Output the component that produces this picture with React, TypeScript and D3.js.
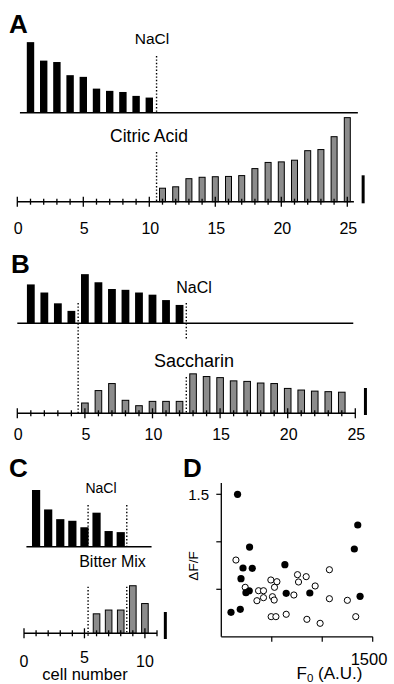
import React, { useEffect, useRef } from 'react';
import * as d3 from 'd3';

// Panel A: NaCl vs citric acid responses, per cell
const aNaClCells = [1, 2, 3, 4, 5, 6, 7, 8, 9, 10];
const aNaClValues = [1.26, 0.93, 0.905, 0.67, 0.64, 0.43, 0.39, 0.37, 0.3, 0.27];
const aCitricCells = [11, 12, 13, 14, 15, 16, 17, 18, 19, 20, 21, 22, 23, 24, 25];
const aCitricValues = [0.25, 0.275, 0.42, 0.445, 0.455, 0.46, 0.475, 0.6, 0.71, 0.72, 0.75, 0.92, 0.94, 1.17, 1.51];

// Panel B: NaCl vs saccharin
const bNaClCells = [1, 2, 3, 4, 5, 6, 7, 8, 9, 10, 11, 12];
const bNaClValues = [0.72, 0.57, 0.37, 0.23, 0.91, 0.76, 0.635, 0.62, 0.57, 0.53, 0.43, 0.34];
const bSaccCells = [5, 6, 7, 8, 9, 10, 11, 12, 13, 14, 15, 16, 17, 18, 19, 20, 21, 22, 23, 24];
const bSaccValues = [0.2, 0.43, 0.56, 0.25, 0.15, 0.23, 0.23, 0.23, 0.74, 0.69, 0.67, 0.61, 0.6, 0.57, 0.56, 0.47, 0.44, 0.42, 0.41, 0.4];

// Panel C: NaCl vs bitter mix
const cNaClCells = [1, 2, 3, 4, 5, 6, 7, 8];
const cNaClValues = [1.05, 0.69, 0.51, 0.48, 0.36, 0.63, 0.29, 0.27];
const cBitterCells = [6, 7, 8, 9, 10];
const cBitterValues = [0.37, 0.44, 0.44, 0.89, 0.56];

// tick labels
const abTickLabels = [0, 5, 10, 15, 20, 25];
const cTickLabels = [0, 5, 10];

// Panel D: dF/F vs F0, filled and open cells
const dFilledF0 = [161, 1352, 1318, 280, 215, 307, 630, 195, 244, 277, 643, 877, 1375, 96, 188];
const dFilledDF = [1.5, 1.177, 0.924, 0.945, 0.724, 0.721, 0.759, 0.612, 0.464, 0.485, 0.458, 0.461, 0.426, 0.258, 0.289];
const dOpenF0 = [145, 1071, 755, 841, 765, 491, 551, 237, 527, 930, 369, 418, 507, 418, 524, 353, 719, 1071, 1249, 494, 541, 643, 848, 979, 1332];
const dOpenDF = [0.808, 0.706, 0.654, 0.633, 0.577, 0.598, 0.58, 0.521, 0.521, 0.535, 0.485, 0.485, 0.422, 0.412, 0.387, 0.38, 0.44, 0.401, 0.384, 0.212, 0.212, 0.237, 0.184, 0.142, 0.212];
const dYTicks = [0.5, 1, 1.5];
const dXTicks = [500, 1000, 1500];

const FONT = '"Liberation Sans", Arial, Helvetica, sans-serif';
const GRAY = '#8c8c8c';

type G = d3.Selection<SVGGElement, unknown, null, undefined>;
type Lin = d3.ScaleLinear<number, number>;

function bars(g: G, cells: number[], values: number[], x: Lin, base: number, y: Lin, bw: number, gray: boolean) {
    const o = gray ? 0.5 : 0;
    g.append('g').selectAll('rect')
        .data(cells)
        .enter().append('rect')
        .attr('x', d => x(d) - bw / 2 + o)
        .attr('y', (d, i) => base - y(values[i]) + o)
        .attr('width', bw - 2 * o)
        .attr('height', (d, i) => y(values[i]) - o)
        .attr('fill', gray ? GRAY : '#000')
        .attr('stroke', gray ? '#000' : 'none')
        .attr('stroke-width', 1);
}

function hline(g: G, x1: number, x2: number, y: number, w = 1.5) {
    g.append('line').attr('x1', x1).attr('x2', x2).attr('y1', y).attr('y2', y)
        .attr('stroke', '#000').attr('stroke-width', w);
}

function dotted(g: G, x: number, y1: number, y2: number) {
    g.append('line').attr('x1', x).attr('x2', x).attr('y1', y1).attr('y2', y2)
        .attr('stroke', '#000').attr('stroke-width', 1.4).attr('stroke-dasharray', '1.4,2');
}

// axis with ticks crossing the line, longer ones every 5 cells
function cellAxis(g: G, x: Lin, y0: number, last: number, end: number) {
    hline(g, x(0), x(end), y0, 1.5);
    const ticks = d3.range(0, last + 1);
    g.append('g').selectAll('line')
        .data(ticks)
        .enter().append('line')
        .attr('x1', d => x(d)).attr('x2', d => x(d))
        .attr('y1', d => y0 - (d % 5 === 0 ? 5 : 3))
        .attr('y2', d => y0 + (d % 5 === 0 ? 5 : 3))
        .attr('stroke', '#000').attr('stroke-width', 1.3);
}

function label(g: G, txt: string, x: number, y: number, size: number, anchor = 'middle', bold = false) {
    return g.append('text').attr('x', x).attr('y', y)
        .attr('text-anchor', anchor)
        .attr('font-family', FONT)
        .attr('font-size', size)
        .attr('font-weight', bold ? 'bold' : 'normal')
        .text(txt);
}

function scaleBar(g: G, x: number, bottom: number, len: number) {
    g.append('line').attr('x1', x).attr('x2', x).attr('y1', bottom).attr('y2', bottom - len)
        .attr('stroke', '#000').attr('stroke-width', 3);
}

const App = () => {
    const svgRef = useRef<SVGSVGElement>(null);

    useEffect(() => {
        const svg = d3.select(svgRef.current);
        svg.selectAll('*').remove();
        const g = svg.append('g') as G;

        // ---------- A ----------
        const xA = d3.scaleLinear().domain([0, 25]).range([17.3, 347.3]);
        const yA = d3.scaleLinear().domain([0, 0.5]).range([0, 28]);
        const aTop = 112.7, aBot = 201.7;
        label(g, 'A', 9, 33, 26, 'start', true);
        bars(g, aNaClCells, aNaClValues, xA, aTop, yA, 7.4, false);
        hline(g, xA(0.2), xA(25.8), aTop, 1.6);
        dotted(g, xA(10.55), 56, aTop);
        label(g, 'NaCl', 152, 43.5, 15.5);
        bars(g, aCitricCells, aCitricValues, xA, aBot, yA, 7, true);
        dotted(g, xA(10.55), 152, aBot);
        label(g, 'Citric Acid', 149, 141.7, 17.5);
        cellAxis(g, xA, aBot, 25, 25.5);
        abTickLabels.forEach(t => label(g, String(t), xA(t) + 1, 233.5, 16));
        scaleBar(g, xA(26.2), aBot + 1.6, yA(0.5));

        // ---------- B ----------
        const xB = d3.scaleLinear().domain([0, 25]).range([17.3, 355.3]);
        const yB = d3.scaleLinear().domain([0, 0.5]).range([0, 27]);
        const bTop = 323.3, bBot = 413.3;
        label(g, 'B', 11, 273, 26, 'start', true);
        bars(g, bNaClCells, bNaClValues, xB, bTop, yB, 7.8, false);
        hline(g, xB(0), xB(24.85), bTop, 1.6);
        label(g, 'NaCl', 194, 293.3, 16);
        bars(g, bSaccCells, bSaccValues, xB, bBot, yB, 7.6, true);
        dotted(g, xB(4.5), 303, bBot);
        dotted(g, xB(12.5), 303, 340);
        dotted(g, xB(12.5), 377, bBot);
        label(g, 'Saccharin', 194, 366.7, 18);
        cellAxis(g, xB, bBot, 25, 25);
        abTickLabels.forEach(t => label(g, String(t), xB(t) + 1, 440, 16));
        scaleBar(g, xB(25.75), bBot + 1.7, yB(0.5));

        // ---------- C ----------
        const xC = d3.scaleLinear().domain([0, 11]).range([24, 157]);
        const yC = d3.scaleLinear().domain([0, 0.5]).range([0, 27]);
        const cTop = 546.7, cBot = 633.3;
        label(g, 'C', 9, 477, 26, 'start', true);
        bars(g, cNaClCells, cNaClValues, xC, cTop, yC, 8.2, false);
        hline(g, xC(0.2), xC(10.55), cTop, 1.6);
        dotted(g, xC(5.3), 505, cTop);
        dotted(g, xC(8.5), 505, cTop);
        label(g, 'NaCl', 101, 493.3, 14);
        bars(g, cBitterCells, cBitterValues, xC, cBot, yC, 7.6, true);
        dotted(g, xC(5.3), 586.7, 637);
        dotted(g, xC(8.5), 586.7, cBot);
        label(g, 'Bitter Mix', 112.5, 566.7, 16);
        cellAxis(g, xC, cBot, 11, 11);
        cTickLabels.forEach(t => label(g, String(t), xC(t), t === 5 ? 663 : 667, 16));
        label(g, 'cell number', 85, 680, 16.5);
        scaleBar(g, xC(11.69), cBot + 5.7, yC(0.5));

        // ---------- D ----------
        const xD = d3.scaleLinear().domain([0, 1500]).range([221.3, 372.7]);
        const yD = d3.scaleLinear().domain([0, 1.5]).range([636.8, 494.3]);
        label(g, 'D', 183, 477, 26, 'start', true);
        g.append('line').attr('x1', xD(0)).attr('x2', xD(0)).attr('y1', yD(0)).attr('y2', yD(1.62))
            .attr('stroke', '#000').attr('stroke-width', 1.3);
        hline(g, xD(0), xD(1500), yD(0), 1.3);
        g.append('g').selectAll('line').data(dYTicks).enter().append('line')
            .attr('x1', xD(0) - 5).attr('x2', xD(0))
            .attr('y1', d => yD(d)).attr('y2', d => yD(d))
            .attr('stroke', '#000').attr('stroke-width', 1.2);
        g.append('g').selectAll('line').data(dXTicks).enter().append('line')
            .attr('x1', d => xD(d)).attr('x2', d => xD(d))
            .attr('y1', yD(0)).attr('y2', yD(0) + 5)
            .attr('stroke', '#000').attr('stroke-width', 1.2);
        label(g, '1.5', 209, yD(1.5) + 5.5, 15, 'end');
        label(g, '1500', 369, 665, 16.5);
        const xl = label(g, 'F', 329.5, 678.5, 17);
        xl.append('tspan').attr('font-size', 11.5).attr('dy', 3).text('0');
        xl.append('tspan').attr('dy', -3).text(' (A.U.)');
        g.append('text')
            .attr('transform', 'translate(198,566) rotate(-90)')
            .attr('text-anchor', 'middle')
            .attr('font-family', FONT)
            .attr('font-size', 13.5)
            .text('ΔF/F');

        g.append('g').selectAll('circle').data(dOpenF0).enter().append('circle')
            .attr('cx', d => xD(d))
            .attr('cy', (d, i) => yD(dOpenDF[i]))
            .attr('r', 3.1)
            .attr('fill', '#fff')
            .attr('stroke', '#000')
            .attr('stroke-width', 1);
        g.append('g').selectAll('circle').data(dFilledF0).enter().append('circle')
            .attr('cx', d => xD(d))
            .attr('cy', (d, i) => yD(dFilledDF[i]))
            .attr('r', 3.6)
            .attr('fill', '#000');
    }, []);

    return (
        <svg ref={svgRef} width={394} height={684}
            style={{ position: 'absolute', left: 0, top: 0, background: '#fff' }} />
    );
};

export default App;
